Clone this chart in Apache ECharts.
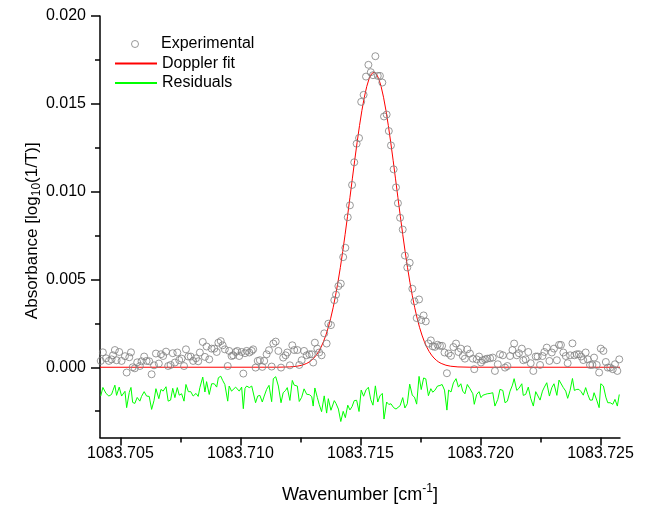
<!DOCTYPE html>
<html><head><meta charset="utf-8">
<script src="https://cdn.jsdelivr.net/npm/echarts@6/dist/echarts.min.js"></script>
<style>html,body{margin:0;padding:0;background:#fff}#c{width:649px;height:506px}</style>
</head><body><div id="c"></div>
<script>
const wavenumber = [
1083.70418,1083.70427,1083.70440,1083.70452,1083.70463,1083.70469,1083.70477,1083.70484,1083.70495,1083.70505,
1083.70519,1083.70526,1083.70537,1083.70544,1083.70551,1083.70560,1083.70570,1083.70581,1083.70588,1083.70599,
1083.70609,1083.70620,1083.70630,1083.70640,1083.70648,1083.70660,1083.70669,1083.70678,1083.70690,1083.70699,
1083.70709,1083.70718,1083.70727,1083.70737,1083.70745,1083.70755,1083.70765,1083.70773,1083.70783,1083.70793,
1083.70803,1083.70815,1083.70824,1083.70831,1083.70843,1083.70852,1083.70859,1083.70870,1083.70880,1083.70891,
1083.70901,1083.70908,1083.70918,1083.70926,1083.70935,1083.70947,1083.70953,1083.70963,1083.70970,1083.70980,
1083.70987,1083.70995,1083.71005,1083.71012,1083.71019,1083.71026,1083.71037,1083.71047,1083.71053,1083.71063,
1083.71072,1083.71081,1083.71091,1083.71099,1083.71109,1083.71119,1083.71130,1083.71137,1083.71147,1083.71158,
1083.71169,1083.71178,1083.71188,1083.71195,1083.71206,1083.71216,1083.71224,1083.71237,1083.71245,1083.71255,
1083.71265,1083.71276,1083.71287,1083.71297,1083.71303,1083.71310,1083.71320,1083.71328,1083.71338,1083.71349,
1083.71359,1083.71366,1083.71377,1083.71391,1083.71398,1083.71408,1083.71418,1083.71428,1083.71437,1083.71447,
1083.71456,1083.71465,1083.71474,1083.71484,1083.71494,1083.71503,1083.71513,1083.71523,1083.71533,1083.71543,
1083.71552,1083.71562,1083.71572,1083.71581,1083.71591,1083.71598,1083.71609,1083.71618,1083.71627,1083.71638,
1083.71648,1083.71656,1083.71665,1083.71676,1083.71685,1083.71695,1083.71705,1083.71716,1083.71725,1083.71734,
1083.71744,1083.71753,1083.71763,1083.71772,1083.71783,1083.71793,1083.71801,1083.71810,1083.71821,1083.71831,
1083.71840,1083.71850,1083.71860,1083.71867,1083.71877,1083.71887,1083.71898,1083.71908,1083.71918,1083.71926,
1083.71935,1083.71945,1083.71956,1083.71968,1083.71974,1083.71984,1083.71994,1083.72002,1083.72009,1083.72019,
1083.72028,1083.72040,1083.72051,1083.72060,1083.72072,1083.72081,1083.72093,1083.72102,1083.72112,1083.72123,
1083.72133,1083.72140,1083.72151,1083.72160,1083.72172,1083.72178,1083.72188,1083.72199,1083.72209,1083.72220,
1083.72230,1083.72238,1083.72248,1083.72258,1083.72266,1083.72276,1083.72287,1083.72297,1083.72306,1083.72318,
1083.72327,1083.72335,1083.72345,1083.72355,1083.72363,1083.72373,1083.72383,1083.72391,1083.72401,1083.72410,
1083.72419,1083.72428,1083.72438,1083.72447,1083.72456,1083.72466,1083.72473,1083.72484,1083.72494,1083.72501,
1083.72512,1083.72522,1083.72530,1083.72540,1083.72551,1083.72560,1083.72570,1083.72578
];
const experimental = [
0.00036,0.00085,0.00051,0.00036,0.00045,0.00068,0.00098,0.00040,0.00087,0.00036,
0.00063,-0.00030,0.00057,0.00085,0.00000,-0.00006,0.00028,0.00007,0.00034,0.00061,
0.00036,0.00034,-0.00040,0.00011,0.00078,0.00021,0.00074,0.00064,0.00089,0.00007,
0.00013,0.00080,0.00027,0.00084,0.00041,0.00049,0.00007,0.00102,0.00061,0.00061,
0.00036,0.00051,0.00034,0.00084,0.00144,0.00059,0.00118,0.00045,0.00106,0.00106,
0.00087,0.00140,0.00149,0.00125,0.00102,0.00007,0.00093,0.00064,0.00068,0.00087,
0.00093,0.00064,0.00087,-0.00036,0.00080,0.00093,0.00084,0.00093,0.00102,-0.00002,
0.00036,0.00040,0.00002,0.00036,0.00074,0.00097,0.00004,0.00135,0.00146,0.00093,
-0.00002,0.00055,0.00068,0.00084,0.00011,0.00125,0.00098,0.00098,0.00013,0.00040,
0.00093,0.00068,0.00074,0.00074,0.00027,0.00140,0.00106,0.00084,0.00068,0.00193,
0.00135,0.00248,0.00240,0.00382,0.00413,0.00462,0.00476,0.00627,0.00680,0.00854,
0.00922,0.01038,0.01167,0.01273,0.01305,0.01511,0.01551,0.01655,0.01722,0.01680,
0.01663,0.01771,0.01659,0.01659,0.01621,0.01428,0.01439,0.01345,0.01263,0.01127,
0.01024,0.00934,0.00851,0.00784,0.00636,0.00568,0.00595,0.00447,0.00375,0.00280,
0.00386,0.00269,0.00295,0.00261,0.00135,0.00153,0.00119,0.00116,0.00128,0.00122,
0.00122,0.00084,-0.00034,0.00078,0.00065,0.00115,0.00135,0.00087,0.00106,0.00064,
0.00049,0.00102,0.00078,0.00049,-0.00011,0.00045,0.00061,0.00027,0.00040,0.00045,
0.00049,0.00051,0.00055,-0.00021,0.00017,0.00074,0.00068,-0.00002,0.00007,0.00064,
0.00098,0.00135,0.00068,0.00080,0.00106,0.00040,0.00045,0.00087,0.00023,-0.00021,
0.00061,0.00061,0.00013,0.00064,0.00087,0.00112,0.00036,0.00084,0.00106,0.00040,
0.00127,0.00127,0.00084,0.00064,0.00023,0.00068,0.00136,0.00068,0.00074,0.00074,
0.00061,0.00041,0.00084,0.00045,0.00013,0.00013,0.00055,0.00013,-0.00030,0.00106,
0.00093,0.00030,-0.00002,-0.00002,-0.00011,0.00017,-0.00021,0.00045
];
const residuals = [
-0.00164,-0.00115,-0.00149,-0.00164,-0.00155,-0.00132,-0.00102,-0.00160,-0.00113,-0.00164,
-0.00137,-0.00230,-0.00143,-0.00115,-0.00200,-0.00206,-0.00172,-0.00193,-0.00166,-0.00139,
-0.00164,-0.00166,-0.00240,-0.00189,-0.00122,-0.00179,-0.00126,-0.00136,-0.00111,-0.00193,
-0.00187,-0.00120,-0.00173,-0.00116,-0.00159,-0.00151,-0.00193,-0.00098,-0.00139,-0.00139,
-0.00164,-0.00149,-0.00166,-0.00116,-0.00056,-0.00141,-0.00082,-0.00155,-0.00094,-0.00094,
-0.00113,-0.00060,-0.00051,-0.00075,-0.00098,-0.00193,-0.00107,-0.00136,-0.00132,-0.00113,
-0.00107,-0.00136,-0.00113,-0.00236,-0.00120,-0.00107,-0.00116,-0.00107,-0.00098,-0.00202,
-0.00164,-0.00160,-0.00198,-0.00164,-0.00126,-0.00103,-0.00196,-0.00065,-0.00054,-0.00107,
-0.00202,-0.00145,-0.00132,-0.00116,-0.00189,-0.00075,-0.00102,-0.00107,-0.00195,-0.00171,
-0.00123,-0.00154,-0.00156,-0.00167,-0.00221,-0.00118,-0.00171,-0.00211,-0.00253,-0.00163,
-0.00261,-0.00179,-0.00245,-0.00190,-0.00206,-0.00238,-0.00309,-0.00251,-0.00287,-0.00216,
-0.00243,-0.00224,-0.00190,-0.00188,-0.00252,-0.00130,-0.00165,-0.00129,-0.00114,-0.00185,
-0.00216,-0.00106,-0.00198,-0.00163,-0.00149,-0.00295,-0.00198,-0.00212,-0.00208,-0.00230,
-0.00238,-0.00231,-0.00219,-0.00173,-0.00232,-0.00208,-0.00096,-0.00160,-0.00170,-0.00210,
-0.00052,-0.00127,-0.00061,-0.00066,-0.00162,-0.00122,-0.00142,-0.00131,-0.00107,-0.00104,
-0.00098,-0.00130,-0.00244,-0.00130,-0.00141,-0.00089,-0.00065,-0.00113,-0.00094,-0.00136,
-0.00151,-0.00098,-0.00122,-0.00151,-0.00211,-0.00155,-0.00139,-0.00173,-0.00160,-0.00155,
-0.00151,-0.00149,-0.00145,-0.00221,-0.00183,-0.00126,-0.00132,-0.00202,-0.00193,-0.00136,
-0.00102,-0.00065,-0.00132,-0.00120,-0.00094,-0.00160,-0.00155,-0.00113,-0.00177,-0.00221,
-0.00139,-0.00139,-0.00187,-0.00136,-0.00113,-0.00088,-0.00164,-0.00116,-0.00094,-0.00160,
-0.00073,-0.00073,-0.00116,-0.00136,-0.00177,-0.00132,-0.00064,-0.00132,-0.00126,-0.00126,
-0.00139,-0.00159,-0.00116,-0.00155,-0.00187,-0.00187,-0.00145,-0.00187,-0.00230,-0.00094,
-0.00107,-0.00170,-0.00202,-0.00202,-0.00211,-0.00183,-0.00221,-0.00155
];
const fitWavenumber = [
1083.70415,1083.71156,1083.71206,1083.71236,1083.71256,
1083.71276,1083.71286,1083.71296,1083.71306,1083.71316,1083.71326,1083.71336,1083.71346,1083.71356,1083.71366,
1083.71376,1083.71386,1083.71396,1083.71406,1083.71416,1083.71426,1083.71436,1083.71446,1083.71456,1083.71466,
1083.71476,1083.71486,1083.71496,1083.71506,1083.71516,1083.71526,1083.71536,1083.71546,1083.71556,1083.71566,
1083.71576,1083.71586,1083.71596,1083.71606,1083.71616,1083.71626,1083.71636,1083.71646,1083.71656,1083.71666,
1083.71676,1083.71686,1083.71696,1083.71706,1083.71716,1083.71726,1083.71736,1083.71746,1083.71756,1083.71766,
1083.71776,1083.71786,1083.71796,1083.71806,1083.71816,1083.71826,1083.71836,
1083.71856,1083.71876,1083.71906,1083.71956,1083.72581
];
const fitAbsorbance = [
0,0.0000024,0.000019,0.000058,0.000115,
0.000218,0.000296,0.000397,0.000527,0.000691,0.000896,0.001150,0.001460,0.001832,0.002274,
0.002791,0.003388,0.004067,0.004830,0.005672,0.006587,0.007566,0.008594,0.009654,0.010726,
0.011785,0.012806,0.013762,0.014627,0.015375,0.015983,0.016432,0.016707,0.016800,0.016707,
0.016432,0.015983,0.015375,0.014627,0.013762,0.012806,0.011785,0.010726,0.009654,0.008594,
0.007566,0.006587,0.005672,0.004830,0.004067,0.003388,0.002791,0.002274,0.001832,0.001460,
0.001150,0.000896,0.000691,0.000527,0.000397,0.000296,0.000218,
0.000115,0.000058,0.000019,0.0000024,0
];
const xRange = [1083.70415, 1083.72581];
const yRange = [-0.004, 0.020];
const xMajorTicks = [1083.705, 1083.710, 1083.715, 1083.720, 1083.725];
const xMinorTicks = [1083.7075, 1083.7125, 1083.7175, 1083.7225];
const yMajorTicks = [0, 0.005, 0.010, 0.015, 0.020];
const yMinorTicks = [-0.0025, 0.0025, 0.0075, 0.0125, 0.0175];
const seriesNames = ['Experimental', 'Doppler fit', 'Residuals'];

const FONT = '"Liberation Sans", Arial, sans-serif';
const ax = () => ({color: '#000', width: 1.5});
const legendText = () => ({fontFamily: FONT, fontSize: 16, color: '#000'});
const chart = echarts.init(document.getElementById('c'), null, {renderer: 'canvas'});
chart.setOption({
  animation: false,
  backgroundColor: '#fff',
  grid: {left: 100, right: 29, top: 16, bottom: 68.5, containLabel: false, outerBoundsMode: 'none'},
  legend: [{
    orient: 'vertical', left: 131, top: 36, padding: 0, itemWidth: 42, itemHeight: 7, itemGap: 3.5,
    selectedMode: false,
    itemStyle: {borderWidth: 1},
    data: [seriesNames[0]],
    textStyle: legendText()
  }, {
    orient: 'vertical', left: 114, top: 55.5, padding: 0, itemWidth: 42, itemHeight: 7, itemGap: 3.5,
    selectedMode: false,
    itemStyle: {opacity: 0},
    data: [seriesNames[1], seriesNames[2]],
    textStyle: legendText()
  }],
  xAxis: [{
    type: 'value', min: xRange[0], max: xRange[1], position: 'bottom',
    axisLine: {show: true, onZero: false, lineStyle: ax()},
    axisTick: {show: true, customValues: xMajorTicks, length: 8, lineStyle: ax()},
    axisLabel: {customValues: xMajorTicks, formatter: v => v.toFixed(3), margin: 8,
      color: '#000', fontSize: 16, fontFamily: FONT},
    splitLine: {show: false},
    name: '{a|Wavenumber [cm}{p|-1}{a|]}', nameLocation: 'middle', nameGap: 45, nameMoveOverlap: false,
    nameTextStyle: {fontFamily: FONT, fontSize: 18, color: '#000', rich: {
      a: {fontFamily: FONT, fontSize: 18, color: '#000', lineHeight: 18, padding: [4, 0, 0, 0], verticalAlign: 'top'},
      p: {fontFamily: FONT, fontSize: 12, color: '#000', lineHeight: 12, verticalAlign: 'top'}
    }}
  }, {
    type: 'value', min: xRange[0], max: xRange[1], position: 'bottom',
    axisLine: {show: false, onZero: false},
    axisTick: {show: true, customValues: xMinorTicks, length: 5, lineStyle: ax()},
    axisLabel: {show: false}, splitLine: {show: false}
  }],
  yAxis: [{
    type: 'value', min: yRange[0], max: yRange[1], position: 'left',
    axisLine: {show: true, onZero: false, lineStyle: ax()},
    axisTick: {show: true, customValues: yMajorTicks, length: 9, lineStyle: ax()},
    axisLabel: {customValues: yMajorTicks, formatter: v => v.toFixed(3), margin: 14,
      color: '#000', fontSize: 16, fontFamily: FONT},
    splitLine: {show: false},
    name: '{a|Absorbance [log}{s|10}{a|(1/T)]}', nameLocation: 'middle', nameGap: 59, nameMoveOverlap: false,
    nameTextStyle: {fontFamily: FONT, fontSize: 17, color: '#000', padding: [0, 8, 0, 0], rich: {
      a: {fontFamily: FONT, fontSize: 17, color: '#000', lineHeight: 17, verticalAlign: 'top'},
      s: {fontFamily: FONT, fontSize: 12, color: '#000', lineHeight: 12, padding: [7, 0, 0, 0], verticalAlign: 'top'}
    }}
  }, {
    type: 'value', min: yRange[0], max: yRange[1], position: 'left', offset: 0,
    axisLine: {show: false, onZero: false},
    axisTick: {show: true, customValues: yMinorTicks, length: 5, lineStyle: ax()},
    axisLabel: {show: false}, splitLine: {show: false}
  }],
  series: [{
    name: seriesNames[0], type: 'scatter', xAxisIndex: 0, yAxisIndex: 0,
    data: wavenumber.map((x, i) => [x, experimental[i]]),
    symbol: 'circle', symbolSize: 7, z: 4,
    itemStyle: {color: 'rgba(255,255,255,0)', borderColor: '#808080', borderWidth: 1},
    emphasis: {disabled: true}
  }, {
    name: seriesNames[1], type: 'line', xAxisIndex: 0, yAxisIndex: 0,
    data: fitWavenumber.map((x, i) => [x, fitAbsorbance[i]]),
    symbol: 'none', smooth: false, z: 3,
    lineStyle: {color: '#ff0000', width: 1}, itemStyle: {color: '#ff0000'},
    emphasis: {disabled: true}
  }, {
    name: seriesNames[2], type: 'line', xAxisIndex: 0, yAxisIndex: 0,
    data: wavenumber.map((x, i) => [x, residuals[i]]),
    symbol: 'none', z: 2,
    lineStyle: {color: '#00ff00', width: 1}, itemStyle: {color: '#00ff00'},
    emphasis: {disabled: true}
  }]
});
</script>
</body></html>
